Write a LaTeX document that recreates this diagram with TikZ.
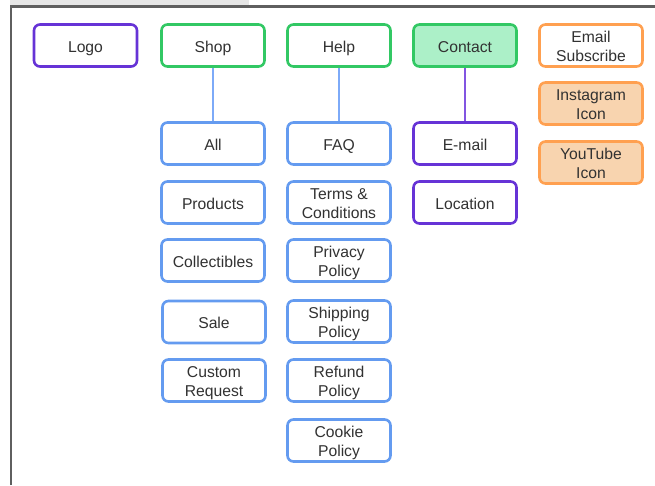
\documentclass[tikz,border=0pt]{standalone}
\usepackage{fontspec}
\setmainfont{Liberation Sans}
\definecolor{cpurple}{RGB}{102,51,214}
\definecolor{cgreen}{RGB}{50,200,100}
\definecolor{cblue}{RGB}{100,155,240}
\definecolor{clinkblue}{RGB}{125,170,248}
\definecolor{clinkpurple}{RGB}{130,85,225}
\definecolor{corange}{RGB}{255,160,80}
\definecolor{corangefill}{RGB}{248,212,175}
\definecolor{cgreenfill}{RGB}{172,240,200}
\definecolor{ctext}{RGB}{50,50,50}
\definecolor{cframe}{RGB}{95,95,95}
\definecolor{cband}{RGB}{230,230,230}
\newcommand\twolines[2]{\begin{tabular}{@{}c@{}}#1\\#2\end{tabular}}
\tikzset{
  box/.style={draw, rounded corners=6pt, line width=2.6pt, minimum width=103pt,
    minimum height=42pt, inner sep=0pt, text=ctext,
    font=\fontsize{15.7pt}{18.7pt}\selectfont, fill=white,
    text height=15.5pt, text depth=1.9pt},
  twoline/.style={text height=25pt, text depth=12.8pt},
  purplebox/.style={box, draw=cpurple},
  greenbox/.style={box, draw=cgreen},
  bluebox/.style={box, draw=cblue},
  orangebox/.style={box, draw=corange},
  link/.style={line width=1.2pt},
}
\begin{document}
\begin{tikzpicture}[x=1pt,y=-1pt]
\useasboundingbox (0,0) rectangle (655,485);
\fill[white] (0,0) rectangle (655,485);
\fill[cband] (10,0) rectangle (249,5.5);
\draw[cframe, line width=2.4pt] (11,485) -- (11,6.5) -- (655,6.5);

% top row
\node[purplebox] (logo) at (85.5,45.5) {Logo};
\node[greenbox] (shop) at (213,45.5) {Shop};
\node[greenbox] (help) at (339,45.5) {Help};
\node[greenbox, fill=cgreenfill] (contact) at (465,45.5) {Contact};
\node[orangebox, twoline] (email) at (591,45.5) {\twolines{Email}{Subscribe}};
\node[orangebox, twoline, fill=corangefill] (insta) at (591,103.5) {\twolines{Instagram}{Icon}};
\node[orangebox, twoline, fill=corangefill] (yt) at (591,162.5) {\twolines{YouTube}{Icon}};

% shop column
\node[bluebox] (all) at (213,143.5) {All};
\node[bluebox] (products) at (213,202.5) {Products};
\node[bluebox] (collect) at (213,260.5) {Collectibles};
\node[bluebox] (sale) at (214,322) {Sale};
\node[bluebox, twoline] (custom) at (214,380.5) {\twolines{Custom}{Request}};

% help column
\node[bluebox] (faq) at (339,143.5) {FAQ};
\node[bluebox, twoline] (terms) at (339,202.5) {\twolines{Terms \&}{Conditions}};
\node[bluebox, twoline] (privacy) at (339,260.5) {\twolines{Privacy}{Policy}};
\node[bluebox, twoline] (shipping) at (339,321.5) {\twolines{Shipping}{Policy}};
\node[bluebox, twoline] (refund) at (339,380.5) {\twolines{Refund}{Policy}};
\node[bluebox, twoline] (cookie) at (339,440.5) {\twolines{Cookie}{Policy}};

% contact column
\node[purplebox] (emailc) at (465,143.5) {E-mail};
\node[purplebox] (location) at (465,202.5) {Location};

% connectors
\draw[link, draw=clinkblue] (shop.south) -- (all.north);
\draw[link, draw=clinkblue] (help.south) -- (faq.north);
\draw[link, draw=clinkpurple] (contact.south) -- (emailc.north);
\end{tikzpicture}
\end{document}
